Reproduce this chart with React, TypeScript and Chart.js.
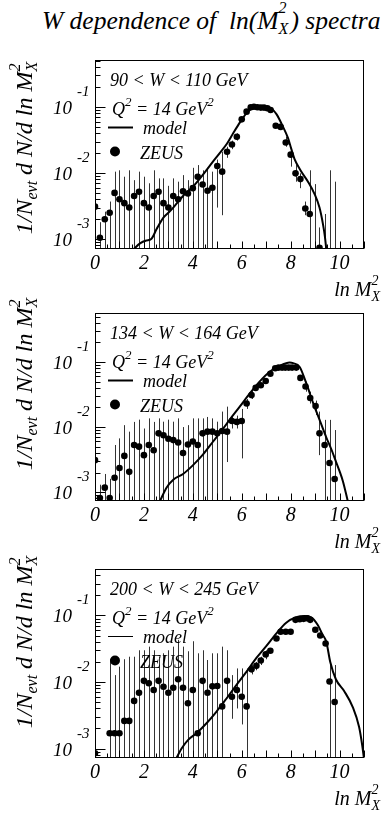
import React, { useEffect, useRef } from "react";
import { Chart, registerables } from "chart.js";

Chart.register(...registerables);

// ---------------- data ----------------
const xAxisMin = 0;
const xAxisMax = 11;
const xTickLabels = [0, 2, 4, 6, 8, 10];
const yDecades = [0.001, 0.01, 0.1];
const yDecadeExponents = ["-3", "-2", "-1"];
const q2Value = "14";

// Panel 1 : 90 < W < 110 GeV
const p1Label = "90 < W < 110 GeV";
const p1X = [0, 0.2, 0.4, 0.6, 0.8, 1.0, 1.2, 1.4, 1.6, 1.8, 2.0, 2.2, 2.4, 2.6, 2.8, 3.0, 3.2, 3.4, 3.6, 3.8, 4.0, 4.2, 4.4, 4.6, 4.8, 5.0, 5.2, 5.4, 5.6, 5.8, 6.0, 6.2, 6.37, 6.5, 6.64, 6.78, 6.91, 7.05, 7.18, 7.39, 7.59, 7.8, 8.0, 8.2, 8.4, 8.6, 8.78, 9.0, 9.18, 9.39, 9.59, 9.8];
const p1Y = [0.0031, 0.00105, 0.002, 0.0025, 0.005, 0.004, 0.0035, 0.003, 0.0045, 0.0052, 0.0035, 0.003, 0.0045, 0.0052, 0.0035, 0.003, 0.0045, 0.004, 0.0053, 0.0049, 0.0059, 0.0088, 0.0067, 0.0054, 0.006, 0.0128, 0.0105, 0.021, 0.027, 0.0355, 0.065, 0.085, 0.099, 0.101, 0.099, 0.098, 0.098, 0.096, 0.09, 0.052, 0.05, 0.029, 0.019, 0.0099, 0.0081, 0.0029, 0.0024, null, 0.00074, null, null, null];
const p1Hi = [null, 0.0018, 0.0026, 0.0037, 0.0105, 0.011, 0.0088, 0.011, 0.0078, 0.0105, 0.0088, 0.007, 0.011, 0.0083, 0.0083, 0.0064, 0.0083, 0.0074, 0.0093, 0.0078, 0.012, 0.0132, 0.011, 0.012, 0.0105, 0.016, 0.021, 0.025, 0.031, 0.04, 0.07, null, null, null, null, null, null, null, null, 0.055, 0.053, 0.0355, 0.0237, 0.0132, 0.0099, 0.0037, 0.011, 0.0068, 0.0015, 0.0024, 0.011, 0.0074];
const p1Lo = [0, 0, 0, 0, 0, 0, 0, 0, 0, 0, 0, 0, 0, 0, 0, 0, 0, 0, 0, 0, 0, 0, 0, 0, 0, 0.003, 0.0023, 0.017, 0.023, 0.031, 0.06, 0, 0, 0, 0, 0, 0, 0, 0, 0.049, 0.047, 0.025, 0.0125, 0.0074, 0.0059, 0.0023, 0, 0, 0, 0, 0, 0];
const p1ModelX = [1.56, 1.84, 2.1, 2.3, 2.52, 2.79, 3.0, 3.2, 3.6, 4.0, 4.4, 4.8, 5.1, 5.4, 5.65, 5.92, 6.19, 6.46, 6.67, 7.01, 7.21, 7.42, 7.69, 7.89, 8.03, 8.16, 8.44, 8.71, 8.98, 9.18, 9.32, 9.4, 9.46];
const p1ModelY = [0.00069, 0.00086, 0.00095, 0.001, 0.00142, 0.0021, 0.0025, 0.003, 0.0045, 0.0062, 0.0093, 0.0145, 0.02, 0.028, 0.04, 0.058, 0.08, 0.097, 0.102, 0.101, 0.095, 0.078, 0.05, 0.034, 0.023, 0.0163, 0.0105, 0.0074, 0.0048, 0.003, 0.0017, 0.0011, 0.00069];

// Panel 2 : 134 < W < 164 GeV
const p2Label = "134 < W < 164 GeV";
const p2X = [0, 0.2, 0.4, 0.6, 0.8, 1.0, 1.2, 1.4, 1.6, 1.8, 2.0, 2.2, 2.4, 2.6, 2.8, 3.0, 3.2, 3.4, 3.6, 3.8, 4.0, 4.2, 4.4, 4.6, 4.8, 5.0, 5.2, 5.4, 5.6, 5.8, 6.0, 6.2, 6.4, 6.57, 6.78, 6.98, 7.17, 7.37, 7.51, 7.65, 7.78, 7.92, 8.06, 8.23, 8.4, 8.61, 8.8, 9.02, 9.18, 9.39, 9.59, 9.8];
const p2Y = [0.0031, 0.00081, 0.00117, 0.00081, 0.00166, 0.00235, 0.0036, 0.00205, 0.0053, 0.005, 0.0037, 0.0053, 0.0044, 0.008, 0.0075, 0.0066, 0.0063, 0.0058, 0.004, 0.0054, 0.006, 0.0053, 0.008, 0.0085, 0.0085, 0.008, 0.0087, 0.0085, 0.0124, 0.012, 0.0124, 0.023, 0.031, 0.04, 0.044, 0.051, 0.066, 0.08, 0.082, 0.082, 0.082, 0.082, 0.082, 0.082, 0.057, 0.042, 0.028, 0.021, 0.008, 0.0053, 0.0028, 0.00159];
const p2Hi = [null, 0.0013, 0.0019, 0.0016, 0.0053, 0.0067, 0.0107, 0.0085, 0.012, 0.013, 0.0095, 0.0136, 0.012, 0.0136, 0.0121, 0.013, 0.0121, 0.0136, 0.01, 0.0107, 0.0136, 0.0136, 0.0136, 0.0143, 0.0136, 0.0121, 0.0173, 0.0206, 0.0153, 0.015, 0.019, 0.027, 0.036, null, null, null, null, null, null, null, null, null, null, null, null, 0.05, 0.035, 0.0255, 0.0173, 0.0129, 0.0129, 0.009];
const p2Lo = [0, 0, 0, 0, 0, 0, 0, 0, 0, 0, 0, 0, 0, 0, 0, 0, 0, 0, 0, 0, 0, 0, 0, 0, 0, 0, 0, 0.0029, 0.0095, 0.0095, 0.0033, 0.019, 0.027, 0, 0, 0, 0, 0, 0, 0, 0, 0, 0, 0, 0, 0.035, 0.023, 0.0153, 0.0037, 0, 0, 0];
const p2ModelX = [2.65, 2.93, 3.2, 3.6, 4.01, 4.42, 4.83, 5.24, 5.51, 5.92, 6.33, 6.73, 7.14, 7.55, 7.96, 8.1, 8.37, 8.65, 8.91, 9.18, 9.46, 9.66, 9.86, 10.0, 10.14, 10.34];
const p2ModelY = [0.00072, 0.00118, 0.00155, 0.0019, 0.0026, 0.0038, 0.006, 0.0095, 0.013, 0.0206, 0.033, 0.05, 0.071, 0.087, 0.098, 0.096, 0.084, 0.046, 0.024, 0.013, 0.0069, 0.0046, 0.0029, 0.0021, 0.00146, 0.00072];

// Panel 3 : 200 < W < 245 GeV
const p3Label = "200 < W < 245 GeV";
const p3X = [0, 0.6, 0.8, 1.0, 1.2, 1.4, 1.6, 1.8, 2.0, 2.2, 2.4, 2.6, 2.8, 3.0, 3.2, 3.4, 3.6, 3.8, 4.0, 4.2, 4.4, 4.6, 4.8, 5.0, 5.2, 5.4, 5.6, 5.8, 6.0, 6.2, 6.4, 6.6, 6.78, 6.98, 7.17, 7.42, 7.59, 7.8, 8.0, 8.2, 8.37, 8.53, 8.67, 8.8, 9.01, 9.21, 9.43, 9.59, 9.8];
const p3Y = [0.00085, 0.0017, 0.0017, 0.0017, 0.0026, 0.0026, 0.0052, 0.0069, 0.0104, 0.0096, 0.0076, 0.0104, 0.0085, 0.0069, 0.0082, 0.011, 0.0082, 0.0048, 0.0076, 0.0017, 0.0104, 0.0069, 0.0086, 0.0087, 0.0043, 0.0104, 0.006, 0.0076, 0.006, 0.0043, 0.0155, 0.0175, 0.021, 0.026, 0.0295, 0.045, 0.057, 0.057, 0.057, 0.086, 0.088, 0.089, 0.091, 0.086, 0.061, 0.05, 0.038, 0.0102, 0.005];
const p3Hi = [null, 0.022, 0.0127, 0.017, 0.022, 0.024, 0.024, 0.03, 0.03, 0.034, 0.03, 0.024, 0.027, 0.03, 0.034, 0.043, 0.034, 0.029, 0.041, 0.027, 0.03, 0.0214, 0.027, 0.027, 0.034, 0.03, 0.0127, 0.016, 0.016, 0.016, 0.018, 0.02, 0.024, 0.03, null, null, null, null, null, null, null, null, null, null, null, null, null, 0.02, 0.018];
const p3Lo = [0, 0, 0, 0, 0, 0, 0, 0, 0, 0, 0, 0, 0, 0, 0, 0, 0, 0, 0, 0, 0, 0, 0, 0, 0, 0.0057, 0.0028, 0.004, 0.0023, 0, 0.013, 0.015, 0.018, 0.022, 0, 0, 0, 0, 0, 0, 0, 0, 0, 0, 0, 0, 0, 0, 0];
const p3ModelX = [3.33, 3.54, 3.81, 4.15, 4.56, 4.97, 5.37, 5.78, 6.19, 6.6, 7.01, 7.42, 7.82, 8.23, 8.57, 8.84, 9.11, 9.3, 9.46, 9.62, 9.85, 10.2, 10.54, 10.8, 10.93, 11.0];
const p3ModelY = [0.00072, 0.001, 0.00135, 0.0017, 0.0024, 0.0036, 0.0056, 0.009, 0.0142, 0.023, 0.035, 0.054, 0.078, 0.094, 0.098, 0.094, 0.072, 0.052, 0.04, 0.02, 0.011, 0.0072, 0.0042, 0.0021, 0.0011, 0.0007];

// ---------------- layout ----------------
const FONT = '"Liberation Serif", "Times New Roman", Tinos, Times, "DejaVu Serif", serif';

interface PanelSpec {
  label: string;
  xs: number[];
  ys: (number | null)[];
  lo: number[];
  hi: (number | null)[];
  mx: number[];
  my: number[];
  yMin: number;
  yMax: number;
  top: number;
  height: number;
  padTop: number;
  padBottom: number;
  yTitleOffset: number;
  modelLegendWidth: number;
}

const panels: PanelSpec[] = [
  { label: p1Label, xs: p1X, ys: p1Y, lo: p1Lo, hi: p1Hi, mx: p1ModelX, my: p1ModelY,
    yMin: 7.2e-4, yMax: 0.515, top: 0, height: 310, padTop: 60, padBottom: 61.5, yTitleOffset: 88, modelLegendWidth: 2 },
  { label: p2Label, xs: p2X, ys: p2Y, lo: p2Lo, hi: p2Hi, mx: p2ModelX, my: p2ModelY,
    yMin: 7.3e-4, yMax: 0.567, top: 280, height: 290, padTop: 33, padBottom: 69, yTitleOffset: 71, modelLegendWidth: 2 },
  { label: p3Label, xs: p3X, ys: p3Y, lo: p3Lo, hi: p3Hi, mx: p3ModelX, my: p3ModelY,
    yMin: 7.2e-4, yMax: 0.5, top: 540, height: 278, padTop: 29, padBottom: 60, yTitleOffset: 73, modelLegendWidth: 1 },
];

type Seg = { t: string; s: number; dy?: number; stack?: boolean };

function drawSegs(ctx: CanvasRenderingContext2D, segs: Seg[], x: number, y: number, align: string) {
  let w = 0;
  for (const g of segs) {
    ctx.font = `italic ${g.s}px ${FONT}`;
    if (!g.stack) w += ctx.measureText(g.t).width;
  }
  let cx = align === "left" ? x : align === "right" ? x - w : x - w / 2;
  ctx.textAlign = "left";
  ctx.textBaseline = "alphabetic";
  for (const g of segs) {
    ctx.font = `italic ${g.s}px ${FONT}`;
    ctx.fillText(g.t, cx, y + (g.dy || 0));
    if (!g.stack) cx += ctx.measureText(g.t).width;
  }
}

function makeDecor(spec: PanelSpec) {
  return {
    id: "panelDecor",
    beforeDatasetsDraw(chart: any) {
      const { ctx, chartArea: a } = chart;
      const xs = chart.scales.x;
      const ys = chart.scales.y;
      ctx.save();
      ctx.beginPath();
      ctx.rect(a.left, a.top, a.right - a.left, a.bottom - a.top);
      ctx.clip();
      ctx.strokeStyle = "#333";
      ctx.lineWidth = 1;
      for (let i = 0; i < spec.xs.length; i++) {
        const hi = spec.hi[i];
        if (hi == null) continue;
        const px = Math.round(xs.getPixelForValue(spec.xs[i])) + 0.5;
        const yTop = ys.getPixelForValue(hi);
        const yBot = spec.lo[i] > 0 ? ys.getPixelForValue(spec.lo[i]) : a.bottom;
        ctx.beginPath();
        ctx.moveTo(px, yTop);
        ctx.lineTo(px, yBot);
        ctx.stroke();
      }
      ctx.restore();
    },
    afterDraw(chart: any) {
      const { ctx, chartArea: a } = chart;
      const xs = chart.scales.x;
      const ys = chart.scales.y;
      ctx.save();
      ctx.fillStyle = "#000";
      ctx.strokeStyle = "#000";
      ctx.lineWidth = 1;
      const L = Math.round(a.left) + 0.5;
      const R = Math.round(a.right) - 0.5;
      const T = Math.round(a.top) + 0.5;
      const B = Math.round(a.bottom) - 0.5;
      ctx.strokeRect(L, T, R - L, B - T);

      // y ticks (log)
      ctx.beginPath();
      for (let e = -4; e <= 0; e++) {
        const d = Math.pow(10, e);
        for (let m = 1; m <= 9; m++) {
          const v = m * d;
          if (v < spec.yMin || v > spec.yMax) continue;
          const py = Math.round(ys.getPixelForValue(v)) + 0.5;
          const len = m === 1 ? 10 : 5;
          ctx.moveTo(L, py);
          ctx.lineTo(L + len, py);
        }
      }
      // x ticks
      for (let v = xAxisMin; v <= xAxisMax + 1e-9; v += 0.5) {
        const px = Math.round(xs.getPixelForValue(v)) + 0.5;
        const len = Number.isInteger(v) ? 7 : 4;
        ctx.moveTo(px, B);
        ctx.lineTo(px, B - len);
      }
      ctx.stroke();

      // x tick labels
      for (const v of xTickLabels) {
        const px = xs.getPixelForValue(v);
        drawSegs(ctx, [{ t: String(v), s: 20 }], px, B + 20, "center");
      }
      // y tick labels
      yDecades.forEach((v, i) => {
        const py = ys.getPixelForValue(v);
        drawSegs(ctx, [{ t: "10", s: 19 }], 72, py + 7, "right");
        drawSegs(ctx, [{ t: yDecadeExponents[i], s: 15 }], 77, py - 11, "left");
      });

      // x title
      drawSegs(ctx, [
        { t: "ln M", s: 20 },
        { t: "2", s: 14, dy: -11, stack: true },
        { t: "X", s: 14, dy: 5 },
      ], 380, B + 47, "right");

      // y title (rotated)
      ctx.save();
      ctx.translate(25, a.top + spec.yTitleOffset);
      ctx.rotate(-Math.PI / 2);
      drawSegs(ctx, [
        { t: "1/N", s: 24 },
        { t: "evt", s: 16, dy: 5 },
        { t: " d N/d ln M", s: 24 },
        { t: "2", s: 16, dy: -12, stack: true },
        { t: "X", s: 16, dy: 5 },
      ], 0, 7, "center");
      ctx.restore();

      // legend
      drawSegs(ctx, [{ t: spec.label, s: 18 }], 110, T + 25, "left");
      drawSegs(ctx, [
        { t: "Q", s: 18 },
        { t: "2", s: 13, dy: -9 },
        { t: " = " + q2Value + " GeV", s: 18 },
        { t: "2", s: 13, dy: -9 },
      ], 112, T + 54, "left");
      ctx.lineWidth = spec.modelLegendWidth;
      ctx.beginPath();
      ctx.moveTo(108, T + 67);
      ctx.lineTo(133, T + 67);
      ctx.stroke();
      drawSegs(ctx, [{ t: "model", s: 18 }], 143, T + 73, "left");
      ctx.beginPath();
      ctx.arc(115, T + 91, 5, 0, Math.PI * 2);
      ctx.fill();
      drawSegs(ctx, [{ t: "ZEUS", s: 18 }], 140, T + 98, "left");
      ctx.restore();
    },
  };
}

function Panel({ spec }: { spec: PanelSpec }) {
  const ref = useRef<HTMLCanvasElement | null>(null);
  useEffect(() => {
    if (!ref.current) return;
    const chart = new Chart(ref.current, {
      type: "scatter",
      data: {
        datasets: [
          {
            type: "line",
            data: spec.mx.map((x, i) => ({ x, y: spec.my[i] })),
            borderColor: "#000",
            borderWidth: 2,
            pointRadius: 0,
            fill: false,
            cubicInterpolationMode: "monotone",
            clip: 0,
          } as any,
          {
            type: "scatter",
            data: spec.xs.map((x, i) => ({ x, y: spec.ys[i] })),
            backgroundColor: "#000",
            borderColor: "#000",
            borderWidth: 0,
            pointRadius: 3.3,
            clip: 0,
          } as any,
        ],
      },
      options: {
        responsive: false,
        animation: false,
        events: [],
        layout: { padding: { left: 95, right: 17, top: spec.padTop, bottom: spec.padBottom } },
        scales: {
          x: { type: "linear", min: xAxisMin, max: xAxisMax, display: false },
          y: { type: "logarithmic", min: spec.yMin, max: spec.yMax, display: false },
        },
        plugins: { legend: { display: false }, tooltip: { enabled: false }, title: { display: false } },
      },
      plugins: [makeDecor(spec)],
    } as any);
    return () => chart.destroy();
  }, [spec]);
  return (
    <canvas
      ref={ref}
      width={381}
      height={spec.height}
      style={{ position: "absolute", left: 0, top: spec.top, width: 381, height: spec.height }}
    />
  );
}

export default function App() {
  return (
    <div style={{ position: "absolute", left: 0, top: 0, width: 381, height: 818, background: "#fff", overflow: "hidden" }}>
      <div
        style={{
          position: "absolute",
          left: 42,
          top: 8,
          fontFamily: FONT,
          fontStyle: "italic",
          fontSize: 25.5,
          lineHeight: "25px",
          whiteSpace: "nowrap",
          color: "#000",
        }}
      >
        W dependence of&nbsp; ln(M
        <span style={{ display: "inline-block", position: "relative", width: 12, height: 0 }}>
          <span style={{ position: "absolute", left: 0, top: -29, fontSize: 16, lineHeight: "16px" }}>2</span>
          <span style={{ position: "absolute", left: 0, top: -8, fontSize: 16, lineHeight: "16px" }}>X</span>
        </span>
        ) spectra
      </div>
      {panels.map((p, i) => (
        <Panel key={i} spec={p} />
      ))}
    </div>
  );
}
